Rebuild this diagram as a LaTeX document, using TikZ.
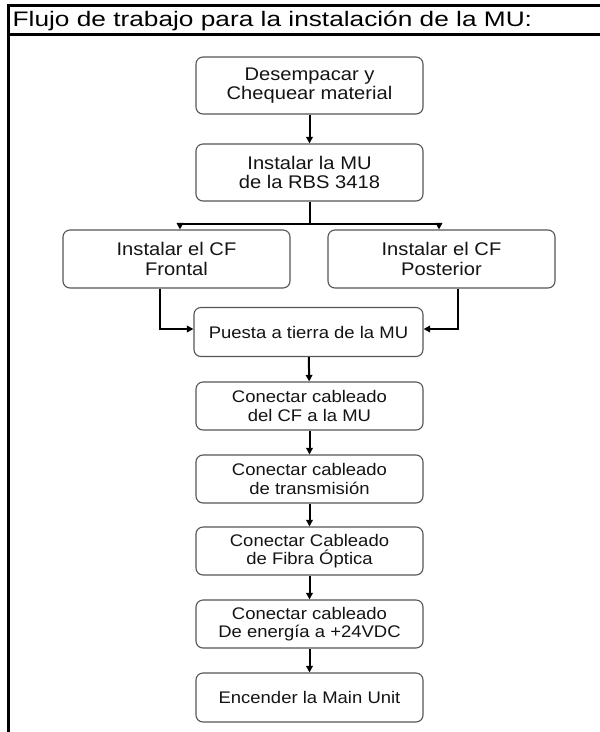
\documentclass[tikz,border=0pt]{standalone}
\usepackage{fontspec}
\setmainfont{Liberation Sans}
\newfontfamily\titlefont[FakeStretch=1.25]{Liberation Sans}
\newfontfamily\boxfont[FakeStretch=1.1]{Liberation Sans}
\usetikzlibrary{arrows.meta}
\definecolor{txt}{HTML}{141414}
\definecolor{bord}{HTML}{555555}
\tikzset{
  stepbox/.style={draw=bord, line width=1.1pt, rounded corners=7pt, fill=white,
    minimum width=227pt, inner sep=0pt, align=center, text=txt},
  bigtxt/.style={font=\boxfont\fontsize{18.3}{19.8}\selectfont, minimum height=57pt},
  smalltxt/.style={font=\boxfont\fontsize{16.8}{18.6}\selectfont, minimum height=48pt},
  arr/.style={line width=2pt, -{Triangle[length=6.5pt,width=6.5pt]}},
  ln/.style={line width=2pt},
  frame/.style={line width=2.7pt, black}
}
\begin{document}
\begin{tikzpicture}[x=1pt,y=-1pt]
\useasboundingbox (0,0) rectangle (600,732);
% frame
\draw[frame] (7,5.5) -- (600,5.5);
\draw[frame] (7,34.5) -- (600,34.5);
\draw[frame] (8.5,4.2) -- (8.5,732);
\node[anchor=base west, inner sep=0pt, font=\titlefont\fontsize{21}{24}\selectfont, text=black] (title) at (12.5,26) {Flujo de trabajo para la instalación de la MU:};
% boxes
\node[stepbox,bigtxt] (b1) at (309.5,85.5) {Desempacar y\\Chequear material};
\node[stepbox,bigtxt] (b2) at (309.5,172.5) {Instalar la MU\\de la RBS 3418};
\node[stepbox,bigtxt,minimum height=58pt] (fr) at (176.5,259) {Instalar el CF\\Frontal};
\node[stepbox,bigtxt,minimum height=58pt] (po) at (441.5,259) {Instalar el CF\\Posterior};
\node[stepbox,smalltxt,minimum width=229pt,minimum height=49pt] (pt) at (308.5,332) {Puesta a tierra de la MU};
\node[stepbox,smalltxt] (b6) at (309.5,406) {Conectar cableado\\del CF a la MU};
\node[stepbox,smalltxt] (b7) at (309.5,479) {Conectar cableado\\de transmisión};
\node[stepbox,smalltxt] (b8) at (309.5,551) {Conectar Cableado\\de Fibra Óptica};
\node[stepbox,smalltxt] (b9) at (309.5,624) {Conectar cableado\\De energía a +24VDC};
\node[stepbox,smalltxt,minimum height=49pt] (b10) at (309.5,697.5) {Encender la Main Unit};
% connectors
\coordinate (bm) at (309.5,224);
\draw[arr] (b1) -- (b2);
\draw[ln] (b2) -- (bm);
\draw[arr] (bm) -| ([xshift=3.5pt]fr.north);
\draw[arr] (bm) -| ([xshift=-2.5pt]po.north);
\draw[arr] ([xshift=-16.5pt]fr.south) |- ([yshift=3pt]pt.west);
\draw[arr] ([xshift=16.5pt]po.south) |- ([yshift=3pt]pt.east);
\draw[arr] (pt) -- (b6);
\draw[arr] (b6) -- (b7);
\draw[arr] (b7) -- (b8);
\draw[arr] (b8) -- (b9);
\draw[arr] (b9) -- (b10);
\end{tikzpicture}
\end{document}
